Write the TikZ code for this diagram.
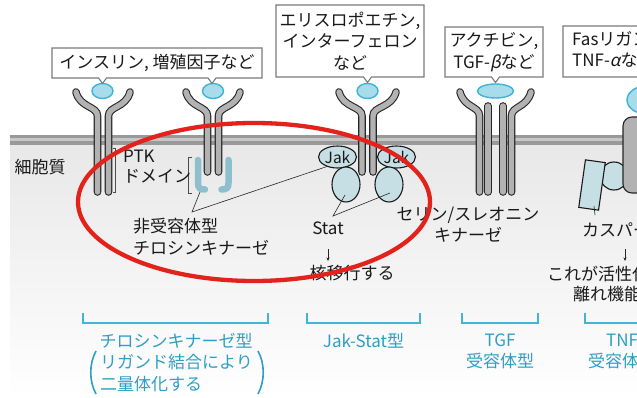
\documentclass[tikz,border=0pt]{standalone}
\usepackage{fontspec}
\setmainfont{Noto Sans CJK JP}
\newfontfamily\slfont[FakeSlant=0.2]{Noto Sans CJK JP}
\usetikzlibrary{arrows.meta,shapes.geometric}

\definecolor{ligfill}{HTML}{A9DCEA}
\definecolor{ligline}{HTML}{3CB4D8}
\definecolor{protfill}{HTML}{C6DFE5}
\definecolor{hookcol}{HTML}{8FBFCC}
\definecolor{ringred}{HTML}{E3231B}
\definecolor{cyantext}{HTML}{2E9FC4}
\definecolor{cyanline}{HTML}{45B3D3}
\definecolor{boxline}{HTML}{7A7A7A}

\begin{document}
\begin{tikzpicture}[x=1pt,y=-1pt,
  lbl/.style={font=\fontsize{17}{21.5}\selectfont, inner sep=0pt, text=black!90, align=center},
  clbl/.style={lbl, text=cyantext},
  rcp/.style={draw=black!85, double=black!30, double distance=5.4pt, line width=1.1pt, line cap=round},
  lig/.style={ellipse, draw=ligline, fill=ligfill, line width=1.4pt, inner sep=0pt},
  prot/.style={ellipse, draw=black!90, fill=protfill, line width=1.1pt, inner sep=0pt},
  callout/.style={draw=boxline, fill=white, line width=1.1pt, line join=miter},
  hookline/.style={draw=hookcol, line width=6.5pt, line cap=round},
  brk/.style={draw=black!70, line width=0.7pt},
  ptr/.style={draw=black!85, line width=0.6pt},
  cbrk/.style={draw=cyanline, line width=1.2pt},
  ring/.style={draw=ringred, line width=4.3pt}
]
\useasboundingbox (0,0) rectangle (637,398);
\clip (0,0) rectangle (637,398);

% cytoplasm and membrane
\fill[top color=black!9, bottom color=white] (10,145) rectangle (637,398);
\fill[black!40] (10,135) rectangle (637,145);
\fill[black!22] (10,138.5) rectangle (637,141.5);

% receptor tyrosine kinases
\draw[rcp] (97.5,192) -- (97.5,116) .. controls (97.5,106) and (80,108) .. (76,92);
\draw[rcp] (108.5,192) -- (108.5,116) .. controls (108.5,106) and (126,108) .. (130,92);
\draw[rcp] (207.5,172) -- (207.5,116) .. controls (207.5,106) and (190,108) .. (186,92);
\draw[rcp] (218.5,172) -- (218.5,116) .. controls (218.5,106) and (236,108) .. (240,92);

% Jak-Stat receptor
\draw[rcp] (362,172) -- (362,116) .. controls (362,106) and (343,108) .. (339,92);
\draw[rcp] (373,172) -- (373,116) .. controls (373,106) and (392,108) .. (396,92);

% TGF receptor
\draw[rcp] (488,192) -- (488,106);
\draw[rcp] (503,192) -- (503,106);
\draw[rcp] (479.5,192) -- (479.5,116) .. controls (479.5,106) and (464,108) .. (460,92);
\draw[rcp] (511.5,192) -- (511.5,116) .. controls (511.5,106) and (527,108) .. (531,92);

% Fas / TNF receptor with caspase
\node[circle, draw=black!90, fill=protfill, line width=1.1pt, minimum size=28pt, inner sep=0pt] (ddom) at (614,176) {};
\draw[draw=black!85, fill=black!30, line width=1.1pt, rounded corners=9pt] (623,117) rectangle (649,193);
\node[draw=black!90, fill=protfill, line width=1.1pt, minimum width=20pt, minimum height=48pt, inner sep=0pt, rotate=-8] (casp) at (592,185) {};

% ligands
\node[lig, minimum width=21pt, minimum height=15pt] (l1) at (102.5,91) {};
\node[lig, minimum width=21pt, minimum height=15pt] (l2) at (213,91) {};
\node[lig, minimum width=21pt, minimum height=15pt] (l3) at (367.5,91) {};
\node[lig, minimum width=36pt, minimum height=14pt] (l4) at (495.5,91) {};
\node[lig, minimum width=46pt, minimum height=30pt] (l5) at (650,100) {};

% ligand callouts
\draw[callout] (52,48) -- (262,48) -- (262,78) -- (216,78) -- (212,83.5) -- (208,78)
  -- (106.5,78) -- (102.5,83.5) -- (98.5,78) -- (52,78) -- cycle;
\node[lbl] (t1) at (157,63) {インスリン, 増殖因子など};
\draw[callout] (276,5) -- (424,5) -- (424,77) -- (371.5,77) -- (367.5,82.5) -- (363.5,77) -- (276,77) -- cycle;
\node[lbl] (t2) at (350,41) {エリスロポエチン,\\インターフェロン\\など};
\draw[callout] (445,27) -- (543,27) -- (543,77) -- (499.5,77) -- (495.5,82.5) -- (491.5,77) -- (445,77) -- cycle;
\node[lbl] (t3) at (494,52) {アクチビン,\\TGF-{\slfont β}など};
\draw[callout] (563,26) -- (720,26) -- (720,77) -- (654,77) -- (650,82.5) -- (646,77) -- (563,77) -- cycle;
\node[lbl, anchor=north west, align=left] (t4) at (572,31) {Fasリガンド,\\TNF-{\slfont α}など};

% Jak and Stat
\node[prot, minimum width=38pt, minimum height=22pt] (jakL) at (337.5,157) {};
\node[prot, minimum width=38pt, minimum height=22pt] (jakR) at (396.5,157) {};
\node[lbl, font=\fontsize{15.5}{18}\selectfont] at (jakL) {Jak};
\node[lbl, font=\fontsize{15.5}{18}\selectfont] at (jakR) {Jak};
\node[prot, minimum width=28pt, minimum height=35pt] (statL) at (346,184.5) {};
\node[prot, minimum width=28pt, minimum height=35pt] (statR) at (389,184.5) {};

% PTK domain hooks and brackets
\draw[hookline] (198,160) -- (198,183) .. controls (198,188) and (200,189.5) .. (205,189.5);
\draw[hookline] (228.5,160) -- (228.5,183) .. controls (228.5,188) and (226.5,189.5) .. (221.5,189.5);
\draw[brk] (112.5,148) -- (115.5,148) -- (115.5,192) -- (112.5,192);
\draw[brk] (192,157) -- (188.5,157) -- (188.5,193) -- (192,193);

% labels in the cytoplasm
\node[lbl] (cyto) at (40,167.5) {細胞質};
\node[lbl, anchor=north west, align=left, font=\fontsize{17}{19.5}\selectfont] (ptk) at (123,150) {PTK\\ドメイン};
\node[lbl, anchor=west, align=left] (nrtk) at (133,236.5) {非受容体型\\チロシンキナーゼ};
\coordinate (nrtkp) at (192,212);
\coordinate (hookp) at (200,192);
\coordinate (jakp) at (327,166.5);
\draw[ptr] (hookp) -- (nrtkp) -- (jakp);

\node[lbl] (stat) at (328,228) {Stat};
\coordinate (statp) at (333,216);
\coordinate (statLp) at (345,195);
\coordinate (statRp) at (390,193);
\draw[ptr] (statLp) -- (statp) -- (statRp);
\coordinate (sa1) at (328,249);
\coordinate (sa2) at (328,261);
\draw[ptr, -{Stealth[length=3.5pt,width=3pt]}] (sa1) -- (sa2);
\node[lbl] (nuc) at (352,273.5) {核移行する};

\node[lbl] (stk) at (468,224.5) {セリン/スレオニン\\キナーゼ};

\node[lbl, anchor=west] (casplbl) at (582,229.5) {カスパーゼ};
\coordinate (caspp) at (595,215);
\coordinate (casptop) at (594,206);
\draw[ptr] (caspp) -- (casptop);
\coordinate (ca1) at (625,249);
\coordinate (ca2) at (625,261);
\draw[ptr, -{Stealth[length=3.5pt,width=3pt]}] (ca1) -- (ca2);
\node[lbl, anchor=west] (act1) at (547,273.5) {これが活性化されて};
\node[lbl, anchor=west] (act2) at (573,294.5) {離れ機能する};

% receptor classes
\draw[cbrk] (83,313) -- (83,323) -- (268,323) -- (268,313);
\draw[cbrk] (307,313) -- (307,323) -- (420,323) -- (420,313);
\draw[cbrk] (462,313) -- (462,323) -- (538,323) -- (538,313);
\draw[cbrk] (585,313) -- (585,323) -- (660,323) -- (660,313);
\node[clbl] (c1) at (176,341) {チロシンキナーゼ型};
\node[clbl, anchor=west] (c1b) at (100,362.5) {リガンド結合により};
\node[clbl, anchor=west] (c1c) at (100,384) {二量体化する};
\draw[draw=cyantext, line width=1.6pt] (96,351) .. controls (89,364) and (89,381) .. (96,394);
\draw[draw=cyantext, line width=1.6pt] (258,351) .. controls (265,364) and (265,381) .. (258,394);
\node[clbl] (c2) at (363.5,341) {Jak-Stat型};
\node[clbl] (c3) at (500,351.5) {TGF\\受容体型};
\node[clbl] (c4) at (622,351.5) {TNF\\受容体型};

% highlight ring
\draw[ring] (254,202) ellipse [x radius=176, y radius=79];
\end{tikzpicture}
\end{document}
